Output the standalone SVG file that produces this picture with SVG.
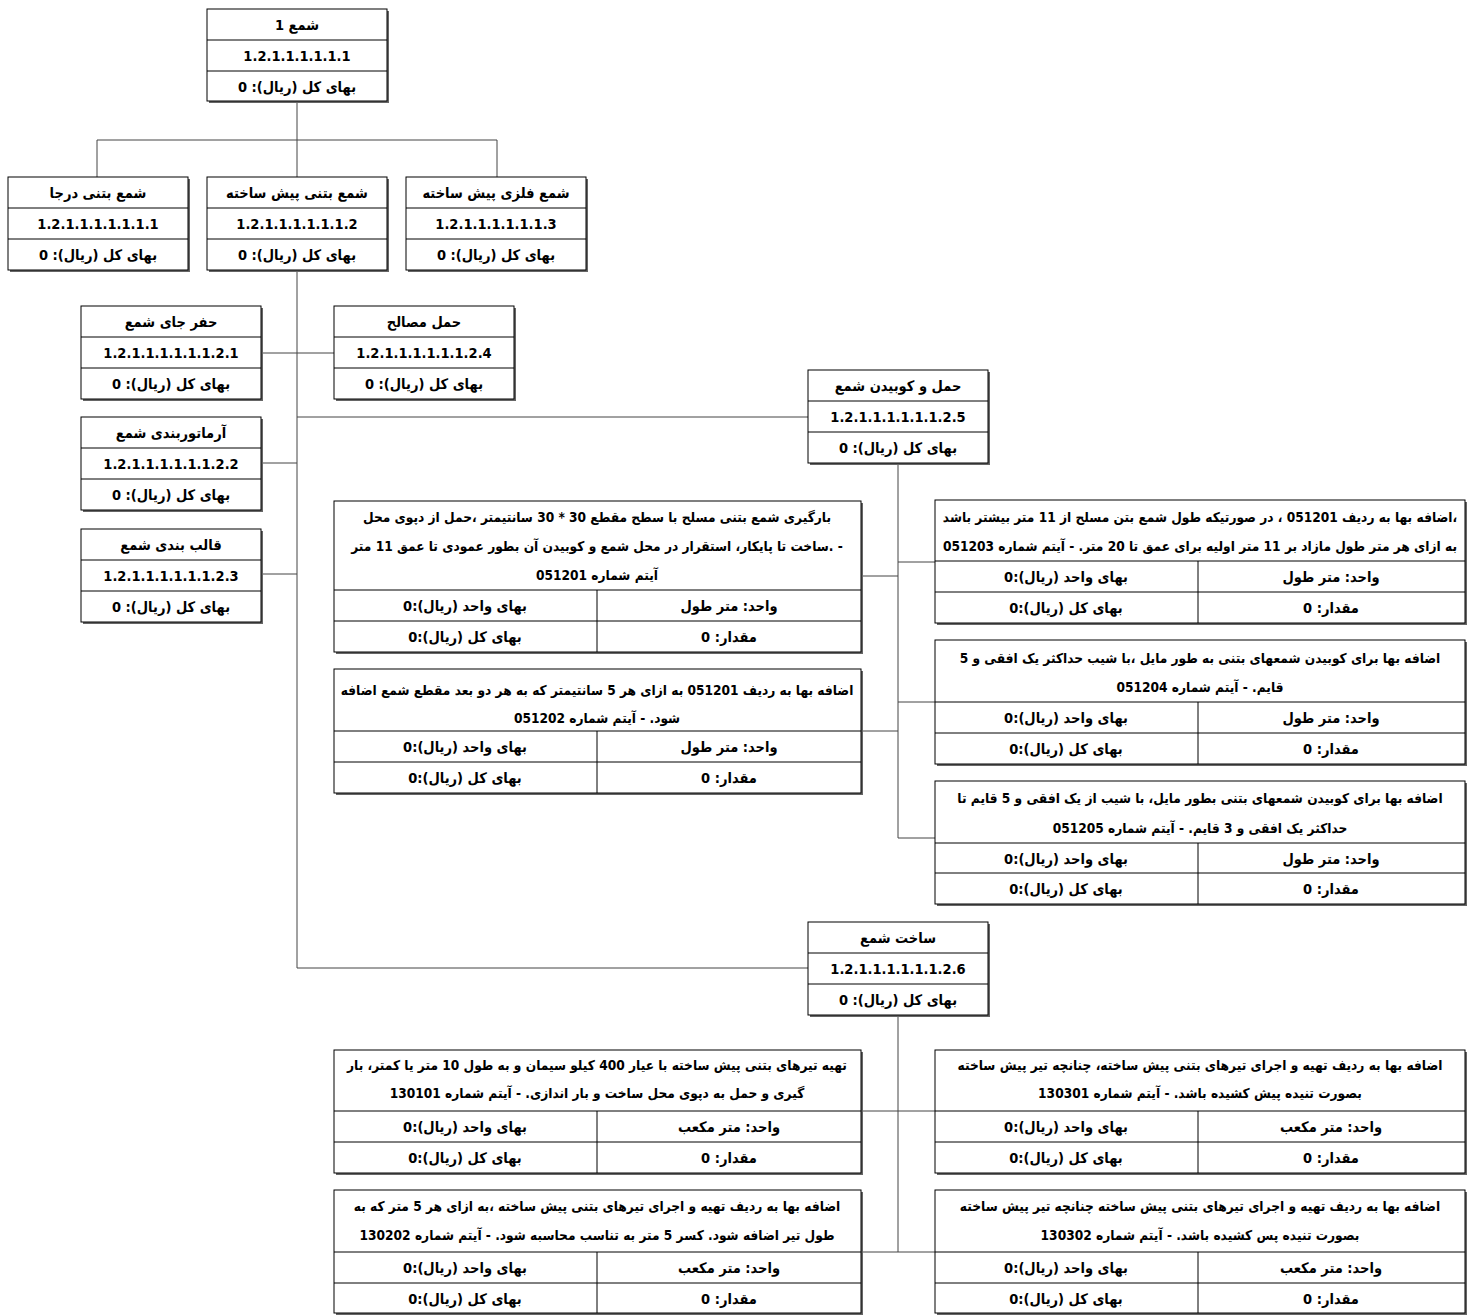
<svg xmlns="http://www.w3.org/2000/svg" width="1474" height="1315" viewBox="0 0 1474 1315">
<style>
.bg{fill:#fff}
.sh{fill:#666}
.bx{fill:#fff;stroke:#000;stroke-width:1}
.dv{stroke:#000;stroke-width:1;fill:none}
.cn{stroke:#444;stroke-width:1;fill:none}
text{font-family:"DejaVu Sans Condensed","DejaVu Sans",sans-serif;font-weight:bold;font-size:14.5px;text-anchor:middle;direction:rtl;fill:#000}
text.h{font-size:13.6px}
</style>
<rect class="bg" x="0" y="0" width="1474" height="1315"/>
<g id="connectors">
<path class="cn" d="M297,101V140M97,140H497M97,140V177M297,140V177M497,140V177"/>
<path class="cn" d="M297,270V968M261,353H334M261,463H297M261,574H297M297,417H808M297,968H808"/>
<path class="cn" d="M898,463V838M861,576H898M861,731H898M898,562H935M898,702H935M898,838H935"/>
<path class="cn" d="M898,1015V1252M861,1111H935M861,1252H935"/>
</g>
<g id="n1">
<rect class="sh" x="209" y="11" width="180" height="92"/><rect class="bx" x="207" y="9" width="180" height="92"/>
<path class="dv" d="M207,40H387M207,71H387"/>
<text x="297" y="30">شمع 1</text><text x="297" y="61">1.2.1.1.1.1.1.1</text><text x="297" y="92">بهای کل (ریال): 0</text>
</g>
<g id="n11">
<rect class="sh" x="10" y="179" width="180" height="93"/><rect class="bx" x="8" y="177" width="180" height="93"/>
<path class="dv" d="M8,208H188M8,239H188"/>
<text x="98" y="198">شمع بتنی درجا</text><text x="98" y="229">1.2.1.1.1.1.1.1.1</text><text x="98" y="260">بهای کل (ریال): 0</text>
</g>
<g id="n12">
<rect class="sh" x="209" y="179" width="180" height="93"/><rect class="bx" x="207" y="177" width="180" height="93"/>
<path class="dv" d="M207,208H387M207,239H387"/>
<text x="297" y="198">شمع بتنی پیش ساخته</text><text x="297" y="229">1.2.1.1.1.1.1.1.2</text><text x="297" y="260">بهای کل (ریال): 0</text>
</g>
<g id="n13">
<rect class="sh" x="408" y="179" width="180" height="93"/><rect class="bx" x="406" y="177" width="180" height="93"/>
<path class="dv" d="M406,208H586M406,239H586"/>
<text x="496" y="198">شمع فلزی پیش ساخته</text><text x="496" y="229">1.2.1.1.1.1.1.1.3</text><text x="496" y="260">بهای کل (ریال): 0</text>
</g>
<g id="n121">
<rect class="sh" x="83" y="308" width="180" height="93"/><rect class="bx" x="81" y="306" width="180" height="93"/>
<path class="dv" d="M81,337H261M81,368H261"/>
<text x="171" y="327">حفر جای شمع</text><text x="171" y="358">1.2.1.1.1.1.1.1.2.1</text><text x="171" y="389">بهای کل (ریال): 0</text>
</g>
<g id="n124">
<rect class="sh" x="336" y="308" width="180" height="93"/><rect class="bx" x="334" y="306" width="180" height="93"/>
<path class="dv" d="M334,337H514M334,368H514"/>
<text x="424" y="327">حمل مصالح</text><text x="424" y="358">1.2.1.1.1.1.1.1.2.4</text><text x="424" y="389">بهای کل (ریال): 0</text>
</g>
<g id="n122">
<rect class="sh" x="83" y="419" width="180" height="93"/><rect class="bx" x="81" y="417" width="180" height="93"/>
<path class="dv" d="M81,448H261M81,479H261"/>
<text x="171" y="438">آرماتوربندی شمع</text><text x="171" y="469">1.2.1.1.1.1.1.1.2.2</text><text x="171" y="500">بهای کل (ریال): 0</text>
</g>
<g id="n123">
<rect class="sh" x="83" y="531" width="180" height="93"/><rect class="bx" x="81" y="529" width="180" height="93"/>
<path class="dv" d="M81,560H261M81,591H261"/>
<text x="171" y="550">قالب بندی شمع</text><text x="171" y="581">1.2.1.1.1.1.1.1.2.3</text><text x="171" y="612">بهای کل (ریال): 0</text>
</g>
<g id="n125">
<rect class="sh" x="810" y="372" width="180" height="93"/><rect class="bx" x="808" y="370" width="180" height="93"/>
<path class="dv" d="M808,401H988M808,432H988"/>
<text x="898" y="391">حمل و کوبیدن شمع</text><text x="898" y="422">1.2.1.1.1.1.1.1.2.5</text><text x="898" y="453">بهای کل (ریال): 0</text>
</g>
<g id="n126">
<rect class="sh" x="810" y="924" width="180" height="93"/><rect class="bx" x="808" y="922" width="180" height="93"/>
<path class="dv" d="M808,953H988M808,984H988"/>
<text x="898" y="943">ساخت شمع</text><text x="898" y="974">1.2.1.1.1.1.1.1.2.6</text><text x="898" y="1005">بهای کل (ریال): 0</text>
</g>
<g id="i051201">
<rect class="sh" x="336" y="503" width="527" height="151"/><rect class="bx" x="334" y="501" width="527" height="151"/>
<path class="dv" d="M334,590H861M334,621H861M597,590V652"/>
<text class="h" x="597" y="522">بارگیری شمع بتنی مسلح با سطح مقطع 30 * 30 سانتیمتر ،حمل از دپوی محل</text>
<text class="h" x="597" y="551">- .ساخت تا پایکار، استقرار در محل شمع و کوبیدن آن بطور عمودی تا عمق 11 متر</text>
<text class="h" x="597" y="580">آیتم شماره 051201</text>
<text x="729" y="611">واحد: متر طول</text><text x="465" y="611">بهای واحد (ریال):0</text>
<text x="729" y="642">مقدار: 0</text><text x="465" y="642">بهای کل (ریال):0</text>
</g>
<g id="i051202">
<rect class="sh" x="336" y="671" width="527" height="124"/><rect class="bx" x="334" y="669" width="527" height="124"/>
<path class="dv" d="M334,731H861M334,762H861M597,731V793"/>
<text class="h" x="597" y="695">اضافه بها به ردیف 051201 به ازای هر 5 سانتیمتر که به هر دو بعد مقطع شمع اضافه</text>
<text class="h" x="597" y="723">شود. - آیتم شماره 051202</text>
<text x="729" y="752">واحد: متر طول</text><text x="465" y="752">بهای واحد (ریال):0</text>
<text x="729" y="783">مقدار: 0</text><text x="465" y="783">بهای کل (ریال):0</text>
</g>
<g id="i051203">
<rect class="sh" x="937" y="502" width="530" height="123"/><rect class="bx" x="935" y="500" width="530" height="123"/>
<path class="dv" d="M935,561H1465M935,592H1465M1198,561V623"/>
<text class="h" x="1200" y="522">،اضافه بها به ردیف 051201 ، در صورتیکه طول شمع بتن مسلح از 11 متر بیشتر باشد</text>
<text class="h" x="1200" y="551">به ازای هر متر طول مازاد بر 11 متر اولیه برای عمق تا 20 متر. - آیتم شماره 051203</text>
<text x="1331" y="582">واحد: متر طول</text><text x="1066" y="582">بهای واحد (ریال):0</text>
<text x="1331" y="613">مقدار: 0</text><text x="1066" y="613">بهای کل (ریال):0</text>
</g>
<g id="i051204">
<rect class="sh" x="937" y="642" width="530" height="124"/><rect class="bx" x="935" y="640" width="530" height="124"/>
<path class="dv" d="M935,702H1465M935,733H1465M1198,702V764"/>
<text class="h" x="1200" y="663">اضافه بها برای کوبیدن شمعهای بتنی به طور مایل ،با شیب حداکثر یک افقی و 5</text>
<text class="h" x="1200" y="692">قایم. - آیتم شماره 051204</text>
<text x="1331" y="723">واحد: متر طول</text><text x="1066" y="723">بهای واحد (ریال):0</text>
<text x="1331" y="754">مقدار: 0</text><text x="1066" y="754">بهای کل (ریال):0</text>
</g>
<g id="i051205">
<rect class="sh" x="937" y="783" width="530" height="123"/><rect class="bx" x="935" y="781" width="530" height="123"/>
<path class="dv" d="M935,843H1465M935,873H1465M1198,843V904"/>
<text class="h" x="1200" y="803">اضافه بها برای کوبیدن شمعهای بتنی بطور مایل، با شیب از یک افقی و 5 قایم تا</text>
<text class="h" x="1200" y="833">حداکثر یک افقی و 3 قایم. - آیتم شماره 051205</text>
<text x="1331" y="864">واحد: متر طول</text><text x="1066" y="864">بهای واحد (ریال):0</text>
<text x="1331" y="894">مقدار: 0</text><text x="1066" y="894">بهای کل (ریال):0</text>
</g>
<g id="i130101">
<rect class="sh" x="336" y="1052" width="527" height="123"/><rect class="bx" x="334" y="1050" width="527" height="123"/>
<path class="dv" d="M334,1111H861M334,1142H861M597,1111V1173"/>
<text class="h" x="597" y="1070">تهیه تیرهای بتنی پیش ساخته با عیار 400 کیلو سیمان و به طول 10 متر یا کمتر، بار</text>
<text class="h" x="597" y="1098">گیری و حمل به دپوی محل ساخت و بار اندازی. - آیتم شماره 130101</text>
<text x="729" y="1132">واحد: متر مکعب</text><text x="465" y="1132">بهای واحد (ریال):0</text>
<text x="729" y="1163">مقدار: 0</text><text x="465" y="1163">بهای کل (ریال):0</text>
</g>
<g id="i130301">
<rect class="sh" x="937" y="1052" width="530" height="123"/><rect class="bx" x="935" y="1050" width="530" height="123"/>
<path class="dv" d="M935,1111H1465M935,1142H1465M1198,1111V1173"/>
<text class="h" x="1200" y="1070">اضافه بها به ردیف تهیه و اجرای تیرهای بتنی پیش ساخته، چنانچه تیر پیش ساخته</text>
<text class="h" x="1200" y="1098">بصورت تنیده پیش کشیده باشد. - آیتم شماره 130301</text>
<text x="1331" y="1132">واحد: متر مکعب</text><text x="1066" y="1132">بهای واحد (ریال):0</text>
<text x="1331" y="1163">مقدار: 0</text><text x="1066" y="1163">بهای کل (ریال):0</text>
</g>
<g id="i130202">
<rect class="sh" x="336" y="1192" width="527" height="123"/><rect class="bx" x="334" y="1190" width="527" height="123"/>
<path class="dv" d="M334,1252H861M334,1283H861M597,1252V1313"/>
<text class="h" x="597" y="1211">اضافه بها به ردیف تهیه و اجرای تیرهای بتنی پیش ساخته ،به ازای هر 5 متر که به</text>
<text class="h" x="597" y="1240">طول تیر اضافه شود. کسر 5 متر به تناسب محاسبه شود. - آیتم شماره 130202</text>
<text x="729" y="1273">واحد: متر مکعب</text><text x="465" y="1273">بهای واحد (ریال):0</text>
<text x="729" y="1304">مقدار: 0</text><text x="465" y="1304">بهای کل (ریال):0</text>
</g>
<g id="i130302">
<rect class="sh" x="937" y="1192" width="530" height="123"/><rect class="bx" x="935" y="1190" width="530" height="123"/>
<path class="dv" d="M935,1252H1465M935,1283H1465M1198,1252V1313"/>
<text class="h" x="1200" y="1211">اضافه بها به ردیف تهیه و اجرای تیرهای بتنی پیش ساخته چنانچه تیر پیش ساخته</text>
<text class="h" x="1200" y="1240">بصورت تنیده پس کشیده باشد. - آیتم شماره 130302</text>
<text x="1331" y="1273">واحد: متر مکعب</text><text x="1066" y="1273">بهای واحد (ریال):0</text>
<text x="1331" y="1304">مقدار: 0</text><text x="1066" y="1304">بهای کل (ریال):0</text>
</g>
</svg>
